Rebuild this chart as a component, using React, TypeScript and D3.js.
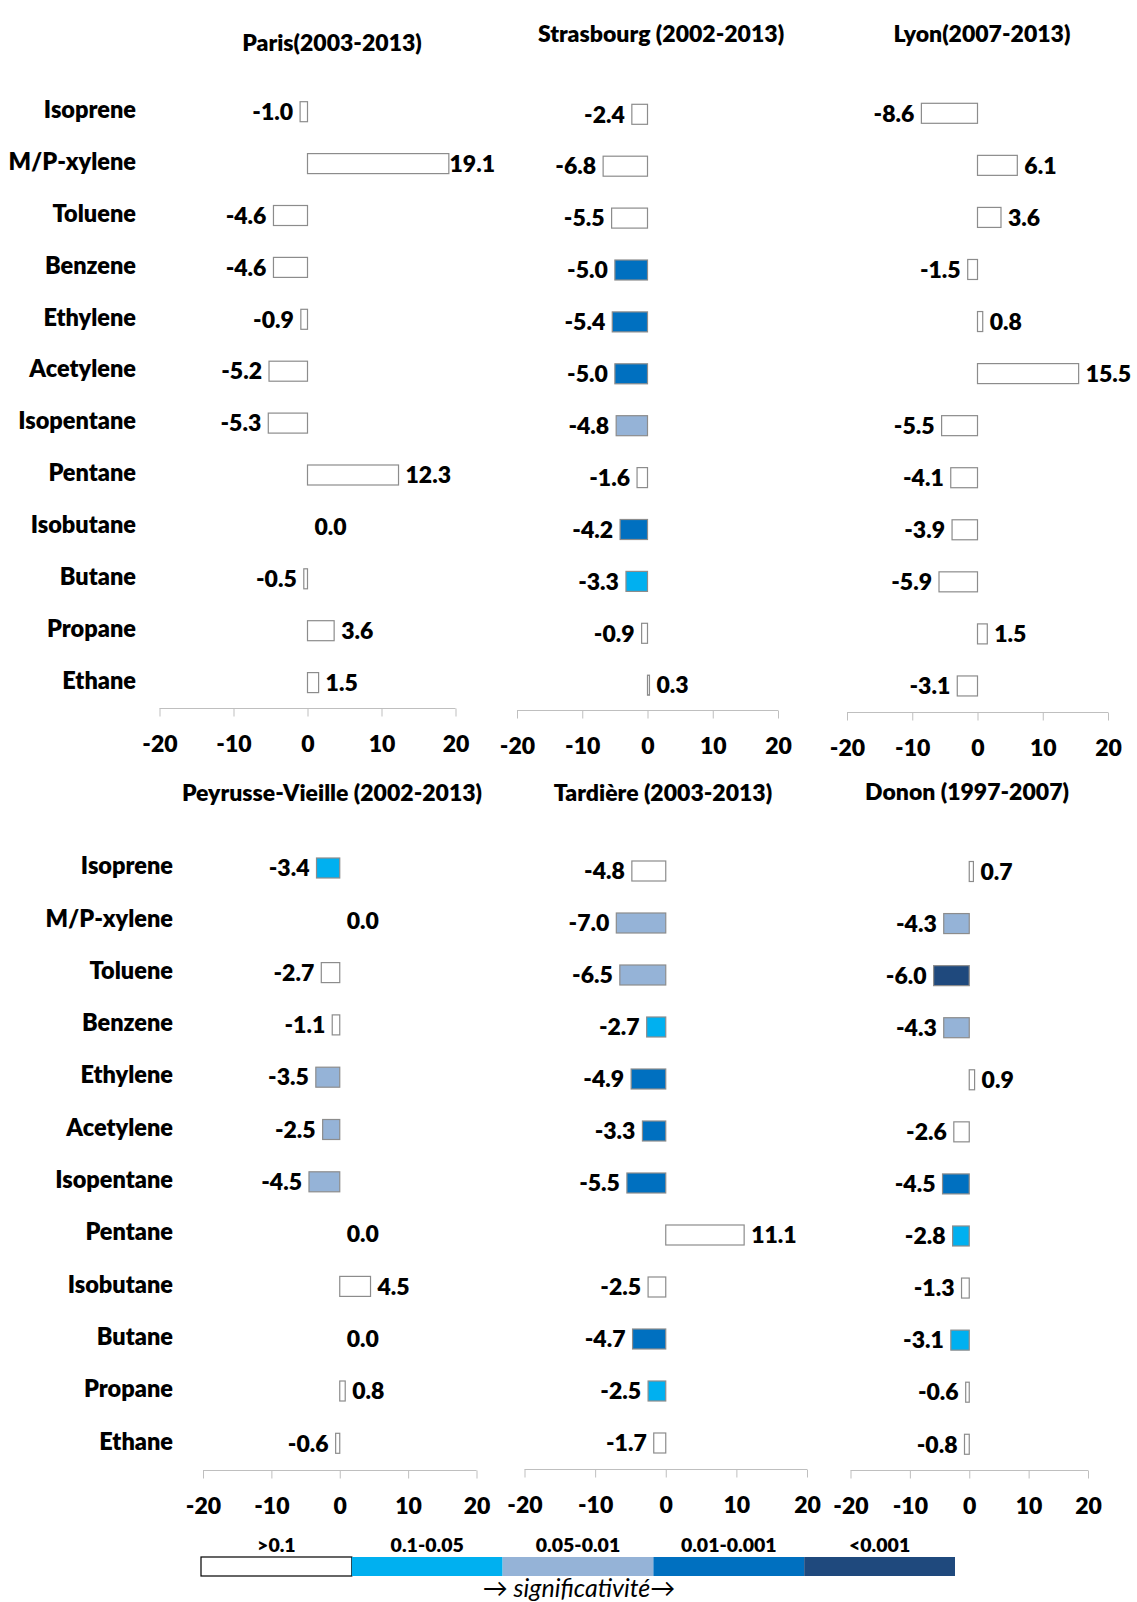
import React, { useEffect, useRef } from "react";
import * as d3 from "d3";

// ---------- DATA ----------
const categories = [
  "Isoprene", "M/P-xylene", "Toluene", "Benzene", "Ethylene", "Acetylene",
  "Isopentane", "Pentane", "Isobutane", "Butane", "Propane", "Ethane",
];

const siteTitles = [
  "Paris(2003-2013)",
  "Strasbourg (2002-2013)",
  "Lyon(2007-2013)",
  "Peyrusse-Vieille (2002-2013)",
  "Tardière (2003-2013)",
  "Donon (1997-2007)",
];

// trend values (%/yr) per compound, same order as categories
const parisValues = [-1.0, 19.1, -4.6, -4.6, -0.9, -5.2, -5.3, 12.3, 0.0, -0.5, 3.6, 1.5];
const strasbourgValues = [-2.4, -6.8, -5.5, -5.0, -5.4, -5.0, -4.8, -1.6, -4.2, -3.3, -0.9, 0.3];
const lyonValues = [-8.6, 6.1, 3.6, -1.5, 0.8, 15.5, -5.5, -4.1, -3.9, -5.9, 1.5, -3.1];
const peyrusseValues = [-3.4, 0.0, -2.7, -1.1, -3.5, -2.5, -4.5, 0.0, 4.5, 0.0, 0.8, -0.6];
const tardiereValues = [-4.8, -7.0, -6.5, -2.7, -4.9, -3.3, -5.5, 11.1, -2.5, -4.7, -2.5, -1.7];
const dononValues = [0.7, -4.3, -6.0, -4.3, 0.9, -2.6, -4.5, -2.8, -1.3, -3.1, -0.6, -0.8];

// significance class: 0 >0.1, 1 0.1-0.05, 2 0.05-0.01, 3 0.01-0.001, 4 <0.001
const parisSig = [0, 0, 0, 0, 0, 0, 0, 0, 0, 0, 0, 0];
const strasbourgSig = [0, 0, 0, 3, 3, 3, 2, 0, 3, 1, 0, 0];
const lyonSig = [0, 0, 0, 0, 0, 0, 0, 0, 0, 0, 0, 0];
const peyrusseSig = [1, 0, 0, 0, 2, 2, 2, 0, 0, 0, 0, 0];
const tardiereSig = [0, 2, 2, 1, 3, 3, 3, 0, 0, 3, 1, 0];
const dononSig = [0, 2, 4, 2, 0, 0, 3, 1, 0, 1, 0, 0];

const axisTicks = [-20, -10, 0, 10, 20];
const axisDomain = [-20, 20];

const legendLabels = [">0.1", "0.1-0.05", "0.05-0.01", "0.01-0.001", "<0.001"];
const sigColors = ["#FFFFFF", "#00B0F0", "#95B3D7", "#0070C0", "#1F497D"];
const legendCaption = "→ significativité→";

// ---------- LAYOUT (styles / positions) ----------
const panelLayout = [
  { x0: 159.5, x1: 455.5, yFirst: 111.7, step: 51.9, axisY: 708.5, tx: 332, ty: 43 },
  { x0: 517, x1: 778, yFirst: 114.3, step: 51.9, axisY: 710.5, tx: 661, ty: 34 },
  { x0: 847, x1: 1108, yFirst: 113.3, step: 52.06, axisY: 712.5, tx: 982, ty: 34 },
  { x0: 203, x1: 476.5, yFirst: 868, step: 52.3, axisY: 1470.5, tx: 332, ty: 793 },
  { x0: 524.5, x1: 807, yFirst: 871, step: 52.0, axisY: 1469.5, tx: 663, ty: 793 },
  { x0: 850.5, x1: 1088, yFirst: 871.5, step: 52.07, axisY: 1470.5, tx: 967, ty: 792 },
];
const rowLabelRight = [136, 173];

const FONT = "Lato, 'Open Sans', sans-serif";
const WEIGHT = 800;
const W = 1137;
const H = 1602;
const BAR_H = 20;

const panelValues = [parisValues, strasbourgValues, lyonValues, peyrusseValues, tardiereValues, dononValues];
const panelSig = [parisSig, strasbourgSig, lyonSig, peyrusseSig, tardiereSig, dononSig];

function Axis({ scale, y }: { scale: d3.ScaleLinear<number, number>; y: number }) {
  const ref = useRef<SVGGElement>(null);
  useEffect(() => {
    if (!ref.current) return;
    const g = d3.select(ref.current);
    g.selectAll("*").remove();
    g.call(
      d3
        .axisBottom(scale)
        .tickValues(axisTicks)
        .tickSize(8)
        .tickPadding(19)
        .tickFormat((d: any) => String(d)) as any
    );
    g.select(".domain").attr("stroke", "#BFBFBF").attr("d", `M${scale.range()[0]},0H${scale.range()[1]}`);
    g.selectAll(".tick line").attr("stroke", "#BFBFBF");
    g.selectAll(".tick text")
      .attr("fill", "#000")
      .attr("font-family", FONT)
      .attr("font-weight", WEIGHT)
      .attr("font-size", 23);
  }, [scale, y]);
  return <g ref={ref} transform={`translate(0,${y})`} />;
}

function Panel({ idx }: { idx: number }) {
  const L = panelLayout[idx];
  const values = panelValues[idx];
  const sig = panelSig[idx];
  const x = d3.scaleLinear().domain(axisDomain).range([L.x0, L.x1]);
  const y = d3
    .scalePoint<string>()
    .domain(categories)
    .range([L.yFirst, L.yFirst + (categories.length - 1) * L.step]);
  const xMax = x(axisDomain[1]);
  return (
    <g>
      <text x={L.tx} y={L.ty} dy="0.35em" textAnchor="middle" fontFamily={FONT} fontWeight={WEIGHT} fontSize={23}>
        {siteTitles[idx]}
      </text>
      {categories.map((c, i) => {
        const v = values[i];
        const cy = y(c) as number;
        const x0 = x(0);
        const xv = x(v);
        const left = Math.min(x0, xv);
        const w = Math.abs(xv - x0);
        const label = v.toFixed(1);
        let lx: number;
        let anchor: "start" | "end";
        if (v < 0) {
          lx = xv - 7;
          anchor = "end";
        } else {
          lx = Math.min(xv + 7, xMax - 6);
          anchor = "start";
        }
        return (
          <g key={c}>
            {v !== 0 && (
              <rect
                x={left}
                y={cy - BAR_H / 2}
                width={w}
                height={BAR_H}
                fill={sigColors[sig[i]]}
                stroke="#8C8C8C"
                strokeWidth={1.2}
              />
            )}
            <text
              x={lx}
              y={cy}
              dy="0.36em"
              textAnchor={anchor}
              fontFamily={FONT}
              fontWeight={WEIGHT}
              fontSize={23}
            >
              {label}
            </text>
          </g>
        );
      })}
      <Axis scale={x} y={L.axisY} />
    </g>
  );
}

function RowLabels({ row }: { row: number }) {
  const L = panelLayout[row * 3];
  const y = d3
    .scalePoint<string>()
    .domain(categories)
    .range([L.yFirst, L.yFirst + (categories.length - 1) * L.step]);
  return (
    <g>
      {categories.map((c) => (
        <text
          key={c}
          x={rowLabelRight[row]}
          y={(y(c) as number) - 2}
          dy="0.35em"
          textAnchor="end"
          fontFamily={FONT}
          fontWeight={WEIGHT}
          fontSize={23.5}
        >
          {c}
        </text>
      ))}
    </g>
  );
}

function Legend() {
  const lx = d3.scaleBand<string>().domain(legendLabels).range([201, 955]).padding(0);
  return (
    <g>
      {legendLabels.map((l, i) => (
        <g key={l}>
          <rect
            x={lx(l) as number}
            y={1557}
            width={lx.bandwidth()}
            height={19}
            fill={sigColors[i]}
            stroke={i === 0 ? "#000" : "none"}
            strokeWidth={1.2}
          />
          <text
            x={(lx(l) as number) + lx.bandwidth() / 2}
            y={1545}
            dy="0.35em"
            textAnchor="middle"
            fontFamily={FONT}
            fontWeight={WEIGHT}
            fontSize={19.5}
          >
            {l}
          </text>
        </g>
      ))}
      <text x={579} y={1588} dy="0.35em" textAnchor="middle" fontFamily={FONT} fontStyle="italic" fontSize={25}>
        {legendCaption}
      </text>
    </g>
  );
}

export default function App() {
  return (
    <svg
      width={W}
      height={H}
      viewBox={`0 0 ${W} ${H}`}
      style={{ position: "absolute", left: 0, top: 0, background: "#fff" }}
    >
      <rect x={0} y={0} width={W} height={H} fill="#fff" />
      <RowLabels row={0} />
      <RowLabels row={1} />
      {panelLayout.map((_, i) => (
        <Panel key={i} idx={i} />
      ))}
      <Legend />
    </svg>
  );
}
